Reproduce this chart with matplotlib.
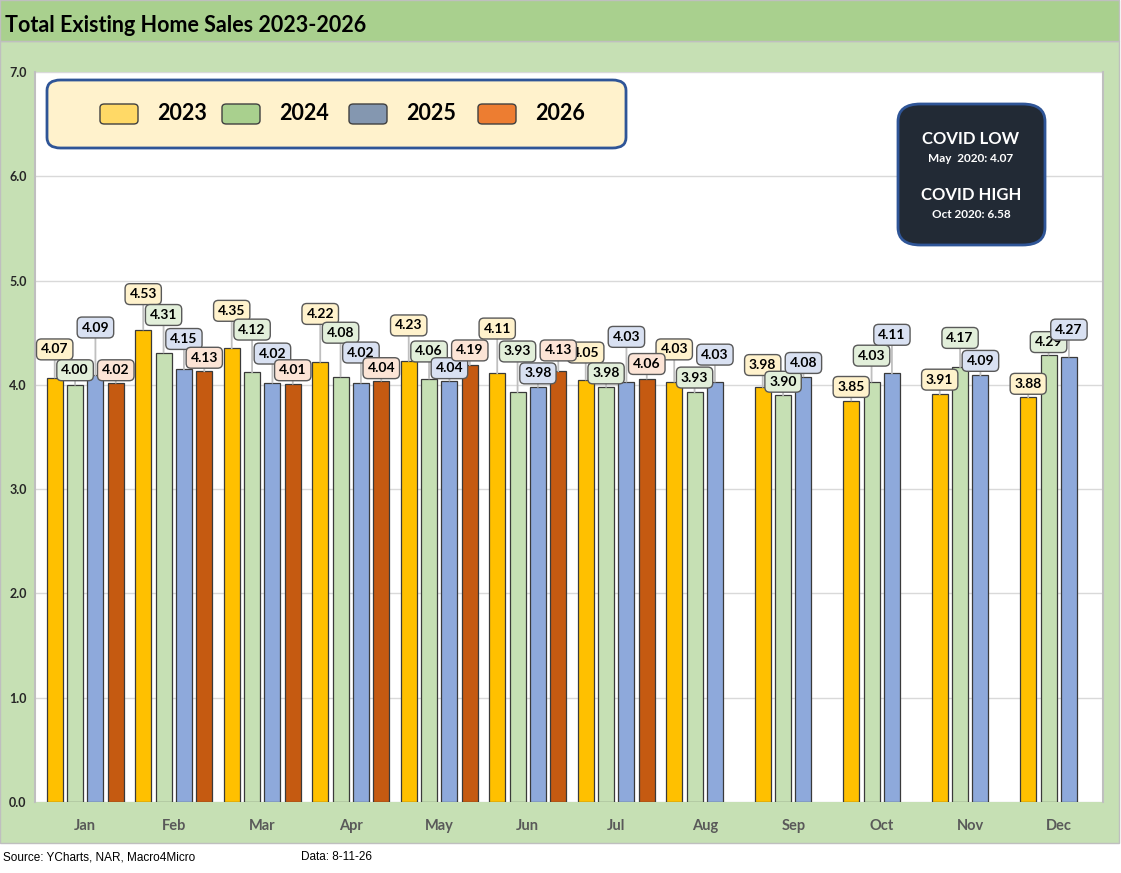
import numpy as np
import matplotlib
matplotlib.use("Agg")
import matplotlib.pyplot as plt
from matplotlib.patches import Rectangle, FancyBboxPatch

plt.rcParams['font.family'] = ['Lato', 'DejaVu Sans']

months = ["Jan", "Feb", "Mar", "Apr", "May", "Jun", "Jul", "Aug", "Sep", "Oct", "Nov", "Dec"]
years = ["2023", "2024", "2025", "2026"]
sales_2023 = [4.07, 4.53, 4.35, 4.22, 4.23, 4.11, 4.05, 4.03, 3.98, 3.85, 3.91, 3.88]
sales_2024 = [4.00, 4.31, 4.12, 4.08, 4.06, 3.93, 3.98, 3.93, 3.90, 4.03, 4.17, 4.29]
sales_2025 = [4.09, 4.15, 4.02, 4.02, 4.04, 3.98, 4.03, 4.03, 4.08, 4.11, 4.09, 4.27]
sales_2026 = [4.02, 4.13, 4.01, 4.04, 4.19, 4.13, 4.06]

# label lift above each bar (data units)
lift_2023 = [0.27, 0.34, 0.36, 0.46, 0.34, 0.43, 0.26, 0.31, 0.21, 0.13, 0.14, 0.13]
lift_2024 = [0.14, 0.36, 0.41, 0.42, 0.26, 0.39, 0.13, 0.14, 0.13, 0.25, 0.28, 0.12]
lift_2025 = [0.46, 0.29, 0.28, 0.29, 0.12, 0.13, 0.43, 0.26, 0.13, 0.37, 0.14, 0.26]
lift_2026 = [0.12, 0.13, 0.13, 0.12, 0.14, 0.20, 0.14]

series = [sales_2023, sales_2024, sales_2025, sales_2026]
lifts = [lift_2023, lift_2024, lift_2025, lift_2026]
bar_colors = ["#FFC000", "#C6E0B4", "#8EA9DB", "#C55A11"]
box_colors = ["#FFF2CC", "#E2EFDA", "#D9E1F2", "#FCE4D6"]
legend_colors = ["#FFD966", "#A9D08E", "#8497B0", "#ED7D31"]

W, H = 1121, 873
fig = plt.figure(figsize=(W / 100, H / 100), dpi=100)
fig.patch.set_facecolor("white")

def fx(px):
    return px / W

def fy(py):
    return 1 - py / H

# backgrounds
fig.patches.append(Rectangle((0, fy(843)), fx(1119), fy(41) - fy(843), transform=fig.transFigure,
                             facecolor="#C6E0B4", edgecolor="#BFBFBF", lw=1, zorder=-2))
fig.patches.append(Rectangle((0, fy(41)), fx(1119), 1 - fy(41), transform=fig.transFigure,
                             facecolor="#A9D08E", edgecolor="#BFBFBF", lw=1, zorder=-2))
fig.text(fx(5), fy(26), "Total Existing Home Sales 2023-2026", fontsize=15.5, fontweight="bold",
         color="black", va="center", ha="left")

ax = fig.add_axes([fx(35), fy(802), fx(1103) - fx(35), fy(72) - fy(802)])
ax.set_zorder(1)
ax.set_facecolor("white")

x = np.arange(len(months))
width = 0.18
step = 0.23
for i, vals in enumerate(series):
    xs = x[:len(vals)] + (i - 1.5) * step
    ax.bar(xs, vals, width=width, color=bar_colors[i], edgecolor="#3A3A3A", lw=0.9, zorder=2)

for i, vals in enumerate(series):
    xs = x[:len(vals)] + (i - 1.5) * step
    for xv, v, lf in zip(xs, vals, lifts[i]):
        ax.annotate(f"{v:.2f}", xy=(xv, v), xytext=(xv, v + lf), textcoords="data",
                    ha="center", va="center", fontsize=10, fontweight="bold", color="black",
                    bbox=dict(boxstyle="round,pad=0.32,rounding_size=0.35", fc=box_colors[i],
                              ec="#595959", lw=1),
                    arrowprops=dict(arrowstyle="-", color="#BFBFBF", lw=1.3, shrinkA=0, shrinkB=0),
                    zorder=4)

ax.set_xlim(-0.5 - 6 / 88.5, 11.5)
ax.set_ylim(0, 7)
ax.set_yticks(np.arange(0, 7.01, 1.0))
ax.set_yticklabels([f"{t:.1f}" for t in np.arange(0, 7.01, 1.0)], fontsize=9,
                   fontweight="bold", color="#262626")
ax.set_xticks(x)
ax.set_xticklabels(months, fontsize=10.5, fontweight="bold", color="#595959")
ax.tick_params(axis="both", length=0)
ax.tick_params(axis="x", pad=12)
ax.tick_params(axis="y", pad=6)
ax.grid(axis="y", color="#D9D9D9", lw=1, zorder=0)
ax.set_axisbelow(True)
for s in ["top", "bottom"]:
    ax.spines[s].set_visible(False)
for s in ["left", "right"]:
    ax.spines[s].set_color("#BFBFBF")
    ax.spines[s].set_linewidth(1.5)

# legend box
fig.patches.append(FancyBboxPatch((fx(47), fy(148)), fx(626) - fx(47), fy(80) - fy(148),
                                  boxstyle="round,pad=0,rounding_size=0.012", transform=fig.transFigure,
                                  facecolor="#FFF2CC", edgecolor="#2F5597", lw=2, zorder=5))
sw_x = [100, 222, 349, 478]
for i, yr in enumerate(years):
    fig.patches.append(FancyBboxPatch((fx(sw_x[i]), fy(124)), fx(38), fy(104) - fy(124),
                                      boxstyle="round,pad=0,rounding_size=0.004", transform=fig.transFigure,
                                      facecolor=legend_colors[i], edgecolor="#404040", lw=1, zorder=6))
    fig.text(fx(sw_x[i] + 57), fy(114), yr, fontsize=15.5, fontweight="bold", color="black",
             ha="left", va="center", zorder=7)

# covid box
fig.patches.append(FancyBboxPatch((fx(898), fy(245)), fx(1045) - fx(898), fy(104) - fy(245),
                                  boxstyle="round,pad=0,rounding_size=0.02", transform=fig.transFigure,
                                  facecolor="#222A35", edgecolor="#2F5597", lw=2, zorder=5))
fig.text(fx(971), fy(139), "COVID LOW", fontsize=12, fontweight="bold", color="white",
         ha="center", va="center", zorder=7)
fig.text(fx(971), fy(158), "May  2020: 4.07", fontsize=8.5, fontweight="bold", color="white",
         ha="center", va="center", zorder=7)
fig.text(fx(971), fy(195), "COVID HIGH", fontsize=12, fontweight="bold", color="white",
         ha="center", va="center", zorder=7)
fig.text(fx(971), fy(215), "Oct 2020: 6.58", fontsize=8.5, fontweight="bold", color="white",
         ha="center", va="center", zorder=7)

# source line
fig.text(fx(3), fy(857), "Source: YCharts, NAR, Macro4Micro", fontsize=8.5, family="Liberation Sans",
         ha="left", va="center", color="black")
fig.text(fx(301), fy(857), "Data: 8-11-26", fontsize=8.5, family="Liberation Sans",
         ha="left", va="center", color="black")

fig.savefig("out.png", dpi=100)
